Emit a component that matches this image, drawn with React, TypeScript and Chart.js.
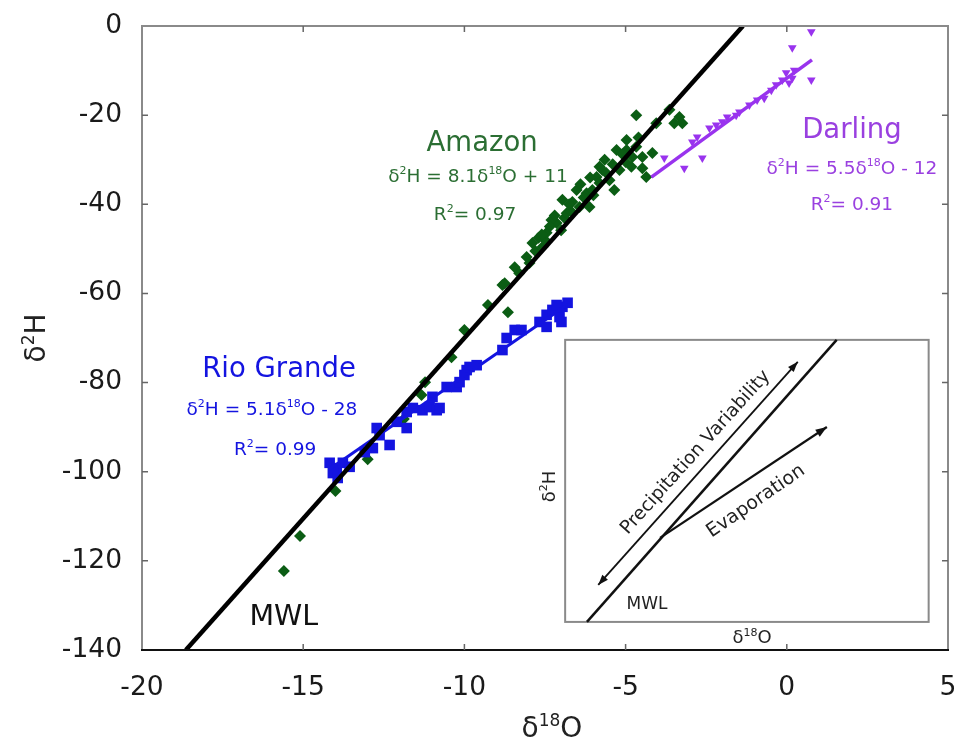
import React, { useEffect, useRef } from 'react';
import { Chart, registerables } from 'chart.js';

Chart.register(...registerables);

const FONT = '"DejaVu Sans", "Liberation Sans", Arial, sans-serif';

// Axis ranges / ticks
const xTicks = [-20, -15, -10, -5, 0, 5];
const yTicks = [-140, -120, -100, -80, -60, -40, -20, 0];

// Amazon (green diamonds)
const amazonX = [
  -15.6, -15.1, -14.0, -13.0, -11.88, -11.33, -11.22, -10.4, -10.0, -9.27, -8.65, -8.82, -8.75, -8.44,
  -7.98, -8.07, -7.89, -7.58, -7.7, -7.5, -7.45, -7.14, -7.3, -7.0, -7.2, -6.9, -6.83, -6.96, -6.65,
  -6.7, -6.43, -6.12, -6.21, -6.3, -6.52, -6.03, -6.0, -5.9, -5.81, -5.72, -5.81, -5.6, -5.5, -5.4,
  -5.35, -5.19, -5.0, -4.82, -4.79, -4.48, -4.48, -4.36, -4.17, -5.28, -4.97, -4.97, -4.67, -4.67,
  -4.05, -3.64, -3.33, -3.24, -3.49, -8.3, -7.8, -7.35, -6.75, -6.4, -6.1, -5.65, -5.1, -4.6, -7.6,
];
const amazonY = [
  -122.3, -114.4, -104.3, -97.2, -88.2, -82.8, -79.9, -74.3, -68.2, -62.6, -64.2, -58.1, -57.7, -54.1,
  -53.2, -51.8, -48.7, -49.6, -47.5, -48.0, -46.4, -44.2, -43.5, -45.8, -42.5, -43.0, -42.0, -39.0, -39.5,
  -41.5, -40.6, -40.6, -37.5, -38.5, -36.8, -36.8, -38.0, -33.9, -35.2, -32.3, -31.6, -33.0, -34.6, -31.0,
  -36.8, -32.3, -30.5, -31.6, -29.4, -29.4, -31.9, -33.9, -28.5, -27.8, -27.8, -25.6, -27.1, -20.0,
  -21.8, -18.8, -20.4, -21.8, -21.8, -55.5, -50.5, -45.0, -40.0, -35.5, -34.0, -30.0, -28.8, -25.0, -46.8,
];

// Rio Grande (blue squares)
const rioX = [
  -14.18, -13.96, -13.77, -13.56, -14.08, -13.93, -13.09, -12.84, -12.72, -12.63, -12.32, -12.1, -11.79,
  -11.79, -11.6, -11.3, -11.08, -10.86, -10.77, -10.99, -10.55, -10.24, -10.15, -9.93, -9.84, -9.62, -10.0,
  -8.82, -8.69, -8.44, -8.23, -7.67, -7.45, -7.45, -7.27, -7.05, -6.96, -6.8, -7.14, -6.99,
];
const rioY = [
  -98.0, -99.2, -98.0, -98.9, -100.3, -101.4, -95.6, -94.7, -90.2, -91.8, -94.0, -88.8, -90.2,
  -86.6, -85.7, -86.2, -85.5, -86.2, -85.7, -83.2, -81.0, -81.0, -79.9, -77.2, -76.5, -76.1, -78.3,
  -72.7, -70.0, -68.2, -68.2, -66.4, -67.5, -64.8, -63.7, -65.3, -63.0, -62.1, -62.6, -66.4,
];

// Darling (purple down-triangles)
const darlingX = [
  -3.8, -3.18, -2.62, -2.93, -2.78, -2.4, -2.19, -2.0, -1.85, -1.57, -1.47, -1.16, -0.92, -0.7, -0.48,
  -0.33, -0.14, -0.02, 0.17, 0.23, 0.07, 0.76, 0.17, 0.76,
];
const darlingY = [
  -29.6, -31.9, -29.6, -26.0, -24.9, -22.9, -22.2, -21.5, -20.4, -20.0, -19.3, -17.7, -16.6, -16.2, -14.4,
  -13.2, -12.1, -10.5, -11.7, -9.9, -12.8, -12.1, -4.9, -1.3,
];

// Lines
const mwlX = [-18.64, -1.36];
const mwlY = [-140, 0];
const rioFitX = [-14.2, -6.8];
const rioFitY = [-99.5, -62.5];
const darlingFitX = [-4.2, 0.78];
const darlingFitY = [-33.9, -7.6];

const GREEN = '#0b5d14';
const GREEN_TXT = '#2b6e33';
const BLUE = '#1414e0';
const PURPLE = '#9933ee';
const PURPLE_TXT = '#9a40e0';

type Part = [string, boolean];

function drawRich(ctx: CanvasRenderingContext2D, parts: Part[], x: number, y: number, size: number, color: string) {
  const sup = Math.round(size * 0.62);
  let total = 0;
  const widths: number[] = [];
  for (const [t, s] of parts) {
    ctx.font = `${s ? sup : size}px ${FONT}`;
    const w = ctx.measureText(t).width;
    widths.push(w);
    total += w;
  }
  let cx = x - total / 2;
  const base = y + size * 0.36;
  ctx.textAlign = 'left';
  ctx.textBaseline = 'alphabetic';
  ctx.fillStyle = color;
  parts.forEach(([t, s], i) => {
    ctx.font = `${s ? sup : size}px ${FONT}`;
    ctx.fillText(t, cx, s ? base - size * 0.4 : base);
    cx += widths[i];
  });
}

type Label = { x: number; y: number; parts: Part[]; size: number; color: string };

const labels: Label[] = [
  { x: -9.45, y: -25.8, parts: [['Amazon', false]], size: 27.5, color: GREEN_TXT },
  { x: -9.58, y: -33.4, parts: [['δ', false], ['2', true], ['H = 8.1δ', false], ['18', true], ['O + 11', false]], size: 18.5, color: GREEN_TXT },
  { x: -9.67, y: -42.0, parts: [['R', false], ['2', true], ['= 0.97', false]], size: 18.5, color: GREEN_TXT },
  { x: 2.02, y: -22.9, parts: [['Darling', false]], size: 27.5, color: PURPLE_TXT },
  { x: 2.02, y: -31.6, parts: [['δ', false], ['2', true], ['H = 5.5δ', false], ['18', true], ['O - 12', false]], size: 18.5, color: PURPLE_TXT },
  { x: 2.02, y: -39.7, parts: [['R', false], ['2', true], ['= 0.91', false]], size: 18.5, color: PURPLE_TXT },
  { x: -15.75, y: -76.5, parts: [['Rio Grande', false]], size: 27.5, color: BLUE },
  { x: -15.97, y: -85.7, parts: [['δ', false], ['2', true], ['H = 5.1δ', false], ['18', true], ['O - 28', false]], size: 18.5, color: BLUE },
  { x: -15.87, y: -94.7, parts: [['R', false], ['2', true], ['= 0.99', false]], size: 18.5, color: BLUE },
  { x: -15.6, y: -132.2, parts: [['MWL', false]], size: 28.5, color: '#111' },
];

function arrowHead(ctx: CanvasRenderingContext2D, x0: number, y0: number, x1: number, y1: number, len: number) {
  const a = Math.atan2(y1 - y0, x1 - x0);
  ctx.beginPath();
  ctx.moveTo(x1, y1);
  ctx.lineTo(x1 - len * Math.cos(a - 0.35), y1 - len * Math.sin(a - 0.35));
  ctx.lineTo(x1 - len * Math.cos(a + 0.35), y1 - len * Math.sin(a + 0.35));
  ctx.closePath();
  ctx.fill();
}

const overlay = {
  id: 'overlay',
  afterDatasetsDraw(chart: any) {
    const { ctx, chartArea: ca, scales } = chart;
    const xs = scales.x;
    const ys = scales.y;
    ctx.save();
    // frame
    ctx.lineWidth = 2;
    ctx.strokeStyle = '#8a8a8a';
    ctx.beginPath();
    ctx.moveTo(ca.left, ca.bottom);
    ctx.lineTo(ca.left, ca.top);
    ctx.lineTo(ca.right, ca.top);
    ctx.lineTo(ca.right, ca.bottom);
    ctx.stroke();
    ctx.strokeStyle = '#111';
    ctx.beginPath();
    ctx.moveTo(ca.left - 1, ca.bottom);
    ctx.lineTo(ca.right + 1, ca.bottom);
    ctx.stroke();
    // inward ticks
    ctx.lineWidth = 1.5;
    ctx.strokeStyle = '#666';
    const tl = 6;
    xTicks.forEach((v) => {
      const px = xs.getPixelForValue(v);
      if (px <= ca.left + 1 || px >= ca.right - 1) return;
      ctx.beginPath();
      ctx.moveTo(px, ca.bottom);
      ctx.lineTo(px, ca.bottom - tl);
      ctx.moveTo(px, ca.top);
      ctx.lineTo(px, ca.top + tl);
      ctx.stroke();
    });
    yTicks.forEach((v) => {
      const py = ys.getPixelForValue(v);
      if (py <= ca.top + 1 || py >= ca.bottom - 1) return;
      ctx.beginPath();
      ctx.moveTo(ca.left, py);
      ctx.lineTo(ca.left + tl, py);
      ctx.moveTo(ca.right, py);
      ctx.lineTo(ca.right - tl, py);
      ctx.stroke();
    });

    // annotations
    labels.forEach((l) => {
      drawRich(ctx, l.parts, xs.getPixelForValue(l.x), ys.getPixelForValue(l.y), l.size, l.color);
    });

    // inset schematic (positions as fractions of the plot area)
    const W = ca.right - ca.left;
    const H = ca.bottom - ca.top;
    const bx0 = ca.left + 0.525 * W;
    const bx1 = ca.left + 0.976 * W;
    const by0 = ca.top + 0.503 * H;
    const by1 = ca.top + 0.955 * H;
    const iw = bx1 - bx0;
    const ih = by1 - by0;
    const P = (fx: number, fy: number): [number, number] => [bx0 + fx * iw, by0 + fy * ih];
    ctx.fillStyle = '#fff';
    ctx.fillRect(bx0, by0, iw, ih);
    ctx.strokeStyle = '#8a8a8a';
    ctx.lineWidth = 2;
    ctx.strokeRect(bx0, by0, iw, ih);

    ctx.strokeStyle = '#111';
    ctx.fillStyle = '#111';
    // MWL
    ctx.lineWidth = 2.5;
    let a = P(0.06, 1.0), b = P(0.747, 0.0);
    ctx.beginPath();
    ctx.moveTo(a[0], a[1]);
    ctx.lineTo(b[0], b[1]);
    ctx.stroke();
    // precipitation variability double arrow
    ctx.lineWidth = 1.8;
    a = P(0.091, 0.869);
    b = P(0.64, 0.078);
    ctx.beginPath();
    ctx.moveTo(a[0], a[1]);
    ctx.lineTo(b[0], b[1]);
    ctx.stroke();
    arrowHead(ctx, a[0], a[1], b[0], b[1], 11);
    arrowHead(ctx, b[0], b[1], a[0], a[1], 11);
    // evaporation arrow
    a = P(0.261, 0.702);
    b = P(0.72, 0.309);
    ctx.lineWidth = 2.2;
    ctx.beginPath();
    ctx.moveTo(a[0], a[1]);
    ctx.lineTo(b[0], b[1]);
    ctx.stroke();
    arrowHead(ctx, a[0], a[1], b[0], b[1], 12);

    // inset texts
    const rot = (fx: number, fy: number, ang: number, parts: Part[], size: number) => {
      const c = P(fx, fy);
      ctx.save();
      ctx.translate(c[0], c[1]);
      ctx.rotate(ang);
      drawRich(ctx, parts, 0, 0, size, '#222');
      ctx.restore();
    };
    rot(0.355, 0.395, (-48 * Math.PI) / 180, [['Precipitation Variability', false]], 18.5);
    rot(0.522, 0.567, (-34.5 * Math.PI) / 180, [['Evaporation', false]], 19);
    rot(0.225, 0.933, 0, [['MWL', false]], 17);
    rot(-0.047, 0.52, -Math.PI / 2, [['δ', false], ['2', true], ['H', false]], 18);
    rot(0.514, 1.053, 0, [['δ', false], ['18', true], ['O', false]], 18);

    ctx.restore();
  },
  afterDraw(chart: any) {
    const { ctx, chartArea: ca } = chart;
    ctx.save();
    // x axis title
    drawRich(ctx, [['δ', false], ['18', true], ['O', false]], (ca.left + ca.right) / 2 + 7, 727, 28, '#222');
    // y axis title
    ctx.translate(35, (ca.top + ca.bottom) / 2);
    ctx.rotate(-Math.PI / 2);
    drawRich(ctx, [['δ', false], ['2', true], ['H', false]], 0, 0, 28, '#222');
    ctx.restore();
  },
};

export default function App() {
  const ref = useRef<HTMLCanvasElement | null>(null);

  useEffect(() => {
    document.body.style.margin = '0';
    const canvas = ref.current;
    if (!canvas) return;
    const pts = (xs: number[], ys: number[]) => xs.map((x, i) => ({ x, y: ys[i] }));
    const chart = new Chart(canvas, {
      type: 'scatter',
      data: {
        datasets: [
          {
            label: 'MWL',
            data: pts(mwlX, mwlY),
            showLine: true,
            borderColor: '#000',
            borderWidth: 4.5,
            pointRadius: 0,
            order: 1,
          },
          {
            label: 'Rio Grande fit',
            data: pts(rioFitX, rioFitY),
            showLine: true,
            borderColor: BLUE,
            borderWidth: 3,
            pointRadius: 0,
            order: 2,
          },
          {
            label: 'Darling fit',
            data: pts(darlingFitX, darlingFitY),
            showLine: true,
            borderColor: PURPLE,
            borderWidth: 3.5,
            pointRadius: 0,
            order: 2,
          },
          {
            label: 'Rio Grande',
            data: pts(rioX, rioY),
            pointStyle: 'rect',
            pointRadius: 7.5,
            backgroundColor: BLUE,
            borderColor: BLUE,
            borderWidth: 0,
            order: 3,
          },
          {
            label: 'Darling',
            data: pts(darlingX, darlingY),
            pointStyle: 'triangle',
            rotation: 180,
            pointRadius: 5,
            backgroundColor: PURPLE,
            borderColor: PURPLE,
            borderWidth: 0,
            order: 3,
          },
          {
            label: 'Amazon',
            data: pts(amazonX, amazonY),
            pointStyle: 'rectRot',
            pointRadius: 6,
            backgroundColor: GREEN,
            borderColor: GREEN,
            borderWidth: 0,
            order: 4,
          },
        ],
      },
      options: {
        responsive: false,
        animation: false,
        devicePixelRatio: 1,
        layout: { padding: { top: 26, right: 11, left: 0, bottom: 0 } },
        plugins: { legend: { display: false }, tooltip: { enabled: false } },
        scales: {
          x: {
            type: 'linear',
            min: -20,
            max: 5,
            grid: { display: false, drawTicks: false },
            border: { display: false },
            afterFit: (s: any) => {
              s.height = 91;
              s.paddingLeft = 0;
              s.paddingRight = 0;
            },
            afterBuildTicks: (s: any) => {
              s.ticks = xTicks.map((v) => ({ value: v }));
            },
            ticks: {
              padding: 22,
              color: '#1a1a1a',
              font: { family: FONT, size: 26.5 },
              maxRotation: 0,
              autoSkip: false,
            },
          },
          y: {
            type: 'linear',
            min: -140,
            max: 0,
            grid: { display: false, drawTicks: false },
            border: { display: false },
            afterFit: (s: any) => {
              s.width = 142;
              s.paddingTop = 0;
              s.paddingBottom = 0;
            },
            afterBuildTicks: (s: any) => {
              s.ticks = yTicks.map((v) => ({ value: v }));
            },
            ticks: {
              padding: 20,
              color: '#1a1a1a',
              font: { family: FONT, size: 26.5 },
              autoSkip: false,
            },
          },
        },
      },
      plugins: [overlay],
    });
    return () => chart.destroy();
  }, []);

  return <canvas ref={ref} width={959} height={741} style={{ display: 'block' }} />;
}
